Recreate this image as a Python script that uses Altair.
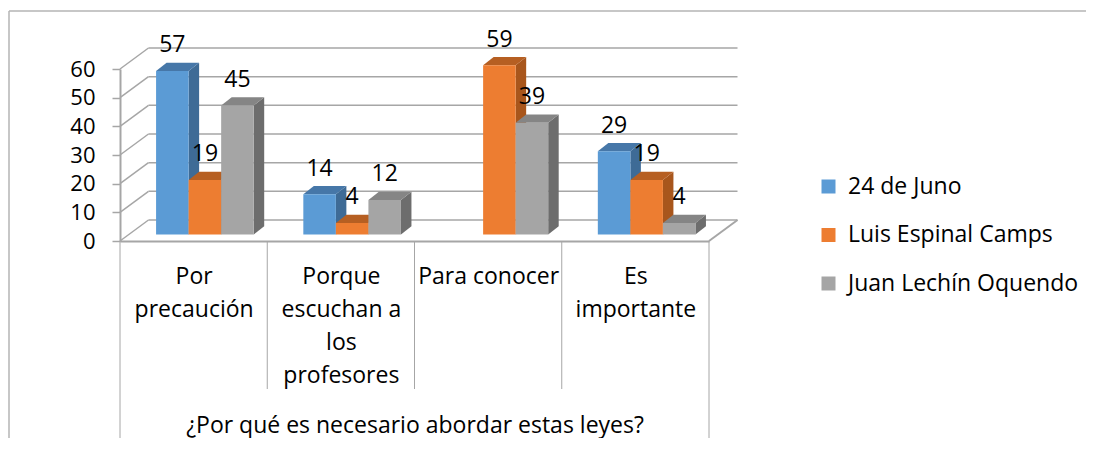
import altair as alt
import pandas as pd

# ---------------- data ----------------
categories = ["Por precaución", "Porque escuchan a los profesores", "Para conocer", "Es importante"]
category_lines = [["Por", "precaución"], ["Porque", "escuchan a", "los", "profesores"], ["Para conocer"], ["Es", "importante"]]
series = ["24 de Juno", "Luis Espinal Camps", "Juan Lechín Oquendo"]
values_24_de_juno = [57, 14, None, 29]
values_luis_espinal = [19, 4, 59, 19]
values_juan_lechin = [45, 12, 39, 4]
y_ticks = [0, 10, 20, 30, 40, 50, 60]
axis_title = "¿Por qué es necesario abordar estas leyes?"

# ---------------- style / layout ----------------
FONT = "Open Sans"
FS = 23
W, H = 589, 172
XMAX, YMAX = len(categories), 60
PX_X = W / XMAX
PX_Y = H / YMAX
BAR_START = 0.245
BAR_W = 0.221
BAR_LIFT = 6.5
BAR_DX = 10.5 / PX_X
BAR_DY = 8.3 / PX_Y
WALL_DX, WALL_DY = 28.5, 21
GRID = "#a6a6a6"

FRONT = ["#5B9BD5", "#ED7D31", "#A5A5A5"]
TOP = ["#4677A8", "#B65F22", "#858585"]
SIDE = ["#3E6B96", "#A8561C", "#6D6D6D"]

all_values = [values_24_de_juno, values_luis_espinal, values_juan_lechin]

bars, sides, tops = [], [], []
for i, cat in enumerate(categories):
    for j, s in enumerate(series):
        v = all_values[j][i]
        if v is None:
            continue
        x0 = i + BAR_START + j * BAR_W
        x1 = x0 + BAR_W
        bid = f"{i}-{j}"
        bars.append(dict(cat=cat, series=s, v=v, base=0, x0=x0, x1=x1,
                         xc=(x0 + x1) / 2, vt=v + BAR_DY, label=str(v)))
        sides.append(dict(bid=bid, series=s, x=x1, lo=0, hi=v))
        sides.append(dict(bid=bid, series=s, x=x1 + BAR_DX, lo=BAR_DY, hi=v + BAR_DY))
        tops.append(dict(bid=bid, series=s, x=x0, lo=v, hi=v))
        tops.append(dict(bid=bid, series=s, x=x0 + BAR_DX, lo=v, hi=v + BAR_DY))
        tops.append(dict(bid=bid, series=s, x=x1, lo=v, hi=v + BAR_DY))
        tops.append(dict(bid=bid, series=s, x=x1 + BAR_DX, lo=v + BAR_DY, hi=v + BAR_DY))

df_bars = pd.DataFrame(bars)
df_sides = pd.DataFrame(sides)
df_tops = pd.DataFrame(tops)
df_grid = pd.DataFrame(dict(v=y_ticks, x0=[0] * len(y_ticks), x1=[XMAX] * len(y_ticks)))
df_floor = pd.DataFrame(dict(v=[0], x1=[XMAX]))
bounds = list(range(XMAX + 1))
df_sep = pd.DataFrame(dict(b=bounds, top=[0] * len(bounds),
                           end=[(-200 if b in (0, XMAX) else -148) / PX_Y for b in bounds]))
df_one = pd.DataFrame(dict(k=[0]))

# label expression for multi-line category labels
expr = "''"
for i in reversed(range(len(categories))):
    arr = "[" + ",".join("'" + t + "'" for t in category_lines[i]) + "]"
    expr = f"datum.value < {i + 1} ? {arr} : {expr}"

x_scale = alt.Scale(domain=[0, XMAX], nice=False, zero=False)
y_scale = alt.Scale(domain=[0, YMAX], nice=False, zero=True)

X_AXIS = alt.Axis(values=[i + 0.5 for i in range(XMAX)], ticks=False, grid=False,
                  labelExpr=expr, labelFont=FONT, labelFontSize=FS, labelColor="#000000",
                  labelLineHeight=33, labelPadding=24, labelOverlap=False, labelFlush=False,
                  labelBound=False, domainColor=GRID, domainWidth=2,
                  title=axis_title, titleFont=FONT, titleFontSize=FS, titleFontWeight="normal",
                  titleColor="#000000", titleY=184, titleBaseline="middle")
Y_AXIS = alt.Axis(values=y_ticks, grid=False, tickSize=8, tickColor=GRID, tickWidth=1.5,
                  domainColor=GRID, domainWidth=2, labelFont=FONT, labelFontSize=22,
                  labelColor="#000000", labelPadding=17, title=None)


def X(f):
    return alt.X(f, type="quantitative", scale=x_scale, axis=X_AXIS)


def Y(f):
    return alt.Y(f, type="quantitative", scale=y_scale, axis=Y_AXIS, stack=None)


border_top = alt.Chart(df_one).mark_rule(color="#b4b4b4", strokeWidth=1.5).encode(
    x=alt.value(-111), x2=alt.value(966), y=alt.value(-58))
border_left = alt.Chart(df_one).mark_rule(color="#b4b4b4", strokeWidth=1.5).encode(
    x=alt.value(-111), y=alt.value(-58), y2=alt.value(375))

back_grid = alt.Chart(df_grid).mark_rule(
    color=GRID, strokeWidth=1.5, xOffset=WALL_DX, x2Offset=WALL_DX,
    yOffset=-WALL_DY, y2Offset=-WALL_DY).encode(x=X("x0"), x2="x1", y=Y("v"), y2="v")
left_grid = alt.Chart(df_grid).mark_rule(
    color=GRID, strokeWidth=1.5, x2Offset=WALL_DX, y2Offset=-WALL_DY).encode(
    x=X("x0"), x2="x0", y=Y("v"), y2="v")
floor_edge = alt.Chart(df_floor).mark_rule(
    color=GRID, strokeWidth=2, x2Offset=WALL_DX, y2Offset=-WALL_DY).encode(
    x=X("x1"), x2="x1", y=Y("v"), y2="v")
separators = alt.Chart(df_sep).mark_rule(color=GRID, strokeWidth=1).encode(
    x=X("b"), y=Y("top"), y2="end")

side_layer = alt.Chart(df_sides).mark_area(
    yOffset=-BAR_LIFT, y2Offset=-BAR_LIFT, interpolate="linear").encode(
    x=X("x"), y=Y("hi"), y2="lo", detail="bid:N",
    color=alt.Color("series:N", scale=alt.Scale(domain=series, range=SIDE), legend=None))
top_layer = alt.Chart(df_tops).mark_area(
    yOffset=-BAR_LIFT, y2Offset=-BAR_LIFT, interpolate="linear").encode(
    x=X("x"), y=Y("hi"), y2="lo", detail="bid:N",
    color=alt.Color("series:N", scale=alt.Scale(domain=series, range=TOP), legend=None))
front_layer = alt.Chart(df_bars).mark_rect(
    yOffset=-BAR_LIFT, y2Offset=-BAR_LIFT).encode(
    x=X("x0"), x2="x1", y=Y("v"), y2="base",
    color=alt.Color("series:N", sort=series,
                    scale=alt.Scale(domain=series, range=FRONT),
                    legend=alt.Legend(orient="none", legendX=697, legendY=106, title=None,
                                      labelFont=FONT, labelFontSize=FS, labelColor="#000000",
                                      labelLimit=0,
                                      symbolType="square", symbolSize=196, symbolStrokeWidth=0,
                                      labelOffset=8, rowPadding=24.5, padding=0)))
labels = alt.Chart(df_bars).mark_text(
    font=FONT, fontSize=FS, color="#000000", baseline="alphabetic",
    dy=-(BAR_LIFT + 10.5)).encode(x=X("xc"), y=Y("vt"), text="label:N")

chart = alt.layer(
    border_top, border_left, separators, back_grid, left_grid, floor_edge,
    side_layer, top_layer, front_layer, labels
).resolve_scale(color="independent").properties(
    width=W, height=H,
    autosize=alt.AutoSizeParams(type="none"),
    padding={"left": 112, "top": 61, "right": 377, "bottom": 197},
    background="#ffffff",
).configure_view(stroke=None)

chart.save("out.html", embed_options={"renderer": "svg", "actions": False})
